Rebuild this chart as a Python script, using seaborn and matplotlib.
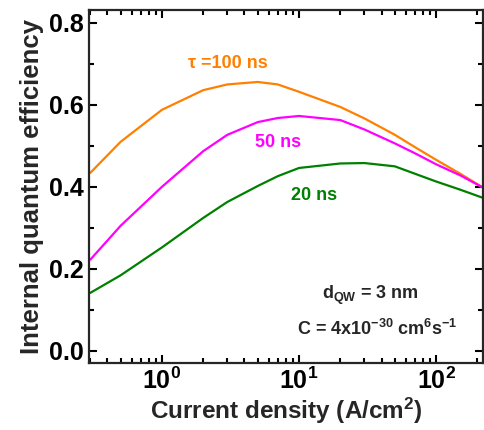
import numpy as np
import pandas as pd
import seaborn as sns
import matplotlib.pyplot as plt
from matplotlib.ticker import FixedLocator

# current density (A/cm^2) and IQE
current = [0.3, 0.5, 1, 2, 3, 5, 7, 10, 20, 30, 50, 70, 100, 150, 220]
iqe_100ns = [0.434, 0.510, 0.588, 0.636, 0.650, 0.656, 0.650, 0.632, 0.595,
             0.567, 0.527, 0.497, 0.466, 0.432, 0.398]
iqe_50ns = [0.222, 0.305, 0.400, 0.487, 0.527, 0.558, 0.568, 0.573, 0.563,
            0.540, 0.506, 0.482, 0.455, 0.428, 0.398]
iqe_20ns = [0.141, 0.184, 0.252, 0.324, 0.363, 0.402, 0.426, 0.446, 0.457,
            0.458, 0.450, 0.432, 0.413, 0.393, 0.373]
series = ["100 ns", "50 ns", "20 ns"]
colors = ["#FF8000", "#FF00FF", "#008000"]

df = pd.DataFrame({
    "J": current * 3,
    "IQE": iqe_100ns + iqe_50ns + iqe_20ns,
    "tau": [s for s in series for _ in current],
})

sns.set_style("ticks")
plt.rcParams.update({
    "font.family": ["Liberation Sans", "DejaVu Sans"],
    "font.weight": "bold",
    "axes.unicode_minus": False,
    "mathtext.fontset": "custom",
    "mathtext.rm": "Liberation Sans:bold",
    "mathtext.bf": "Liberation Sans:bold",
    "mathtext.it": "Liberation Sans:bold",
    # ticks pointing in, on all four sides
    "xtick.direction": "in", "ytick.direction": "in",
    "xtick.top": True, "xtick.bottom": True,
    "ytick.left": True, "ytick.right": True,
    "xtick.major.size": 6, "ytick.major.size": 6,
    "xtick.minor.size": 3.5, "ytick.minor.size": 3.5,
    "xtick.major.width": 1.5, "ytick.major.width": 1.5,
    "xtick.minor.width": 1.5, "ytick.minor.width": 1.5,
    "xtick.minor.visible": True, "ytick.minor.visible": True,
    "xtick.color": "black", "ytick.color": "black",
    "xtick.labelsize": 18, "ytick.labelsize": 18,
    "axes.linewidth": 1.6,
})

fig = plt.figure(figsize=(4.84, 4.30), dpi=100)
ax = fig.add_axes([0.184, 0.156, 0.814, 0.821])

sns.lineplot(data=df, x="J", y="IQE", hue="tau", palette=dict(zip(series, colors)),
             linewidth=1.6, legend=False, ax=ax)

ax.set_xscale("log")
ax.set_xlim(0.294, 220)
ax.set_ylim(-0.03, 0.832)
ax.set_xticks([1, 10, 100])
ax.set_xticklabels([r"$10^{0}$", r"$10^{1}$", r"$10^{2}$"])
minor_x = [m * 10.0 ** e for e in range(-1, 3) for m in range(2, 10)]
ax.xaxis.set_minor_locator(FixedLocator(minor_x))
ax.set_yticks([0.0, 0.2, 0.4, 0.6, 0.8])
ax.set_yticklabels(["0.0", "0.2", "0.4", "0.6", "0.8"])
ax.yaxis.set_minor_locator(FixedLocator([0.1, 0.3, 0.5, 0.7]))
ax.tick_params(which="both", direction="in", top=True, bottom=True,
               left=True, right=True)

ax.set_xlabel(r"Current density (A/cm$^{2}$)", fontsize=17.5, fontweight="bold", labelpad=1)
ax.set_ylabel("Internal quantum efficiency", fontsize=18.5, fontweight="bold", labelpad=4)

ax.text(1.55, 0.70, "τ =100 ns", color=colors[0], fontsize=13, fontweight="bold",
        ha="left", va="center")
ax.text(4.75, 0.507, "50 ns", color=colors[1], fontsize=13, fontweight="bold",
        ha="left", va="center")
ax.text(8.8, 0.378, "20 ns", color=colors[2], fontsize=13, fontweight="bold",
        ha="left", va="center")
ax.text(14.6, 0.135, r"d$_{\mathrm{QW}}$ = 3 nm", fontsize=13, fontweight="bold",
        ha="left", va="center")
ax.text(9.6, 0.052, r"C = 4x10$^{-30}$ cm$^{6}$s$^{-1}$", fontsize=13, fontweight="bold",
        ha="left", va="center")

fig.savefig("out.png", dpi=100)
